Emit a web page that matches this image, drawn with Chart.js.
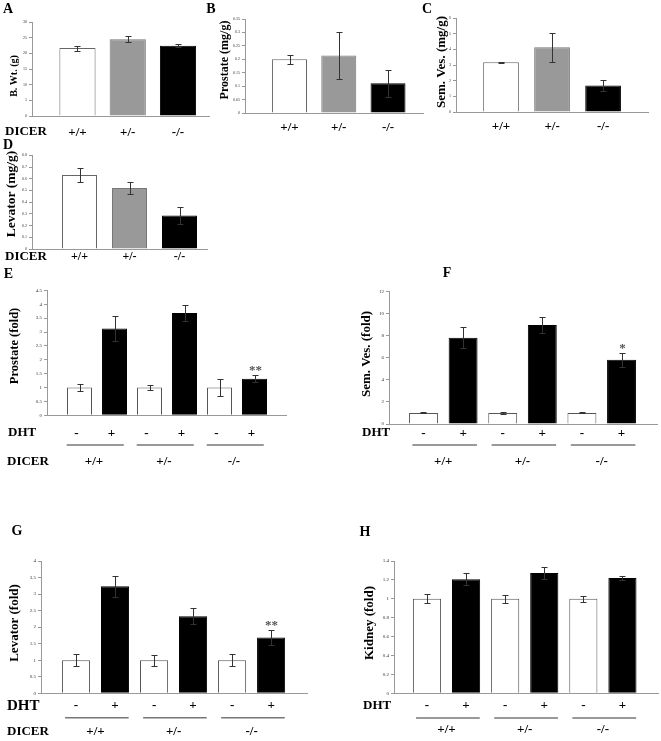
<!DOCTYPE html>
<html>
<head>
<meta charset="utf-8">
<script src="https://cdn.jsdelivr.net/npm/chart.js@4.4.1/dist/chart.umd.min.js"></script>
<style>
  html, body { margin: 0; padding: 0; background: #fff; }
  #page { position: relative; width: 661px; height: 741px; overflow: hidden; }
  #page canvas { position: absolute; }
</style>
</head>
<body>
<div id="page"></div>
<script>
// categories
const genotypes = ['+/+', '+/-', '-/-'];
const dhtLabels = ['-', '+', '-', '+', '-', '+'];

// A-D : organ weights without treatment
const bodyWeight = [21.7, 24.5, 22.4];
const bodyWeightErr = [0.8, 0.9, 0.5];
const prostateMg = [0.2, 0.214, 0.111];
const prostateMgErr = [0.017, 0.087, 0.05];
const semVesMg = [3.18, 4.14, 1.69];
const semVesMgErr = [0.03, 0.93, 0.34];
const levatorMg = [0.632, 0.52, 0.285];
const levatorMgErr = [0.063, 0.054, 0.075];

// E-H : fold change with / without DHT
const prostateFold = [1, 3.13, 1, 3.69, 1, 1.32];
const prostateFoldErr = [0.13, 0.44, 0.08, 0.3, 0.29, 0.12];
const prostateSig = ['', '', '', '', '', '**'];
const semVesFold = [1, 7.8, 1, 8.95, 1, 5.81];
const semVesFoldErr = [0.05, 0.93, 0.1, 0.7, 0.05, 0.63];
const semVesSig = ['', '', '', '', '', '*'];
const levatorFold = [1, 3.24, 1, 2.33, 1, 1.69];
const levatorFoldErr = [0.18, 0.32, 0.16, 0.24, 0.18, 0.22];
const levatorSig = ['', '', '', '', '', '**'];
const kidneyFold = [1, 1.206, 1, 1.273, 1, 1.22];
const kidneyFoldErr = [0.048, 0.065, 0.04, 0.064, 0.03, 0.025];

// couleurs
const genoFills = ['#ffffff', '#999999', '#000000'];
const genoBorders = ['#666666', '#777777', '#000000'];
const dhtFills = ['#ffffff', '#000000', '#ffffff', '#000000', '#ffffff', '#000000'];
const dhtBorders = ['#555555', '#000000', '#555555', '#000000', '#555555', '#000000'];

const SERIF = '"Liberation Serif", "Times New Roman", serif';
const page = document.getElementById('page');

// error bars, stars, letters, titles, DHT/DICER rows
function decoPlugin(p) {
  return {
    id: 'deco' + p.letter,
    afterDatasetsDraw(chart) {
      const ctx = chart.ctx;
      const yS = chart.scales.y;
      const bars = chart.getDatasetMeta(0).data;
      ctx.save();
      ctx.strokeStyle = '#333';
      ctx.lineWidth = 1;
      p.values.forEach((v, i) => {
        const e = p.errors[i];
        const bx = Math.round(bars[i].x) + 0.5;
        const top = Math.round(yS.getPixelForValue(v + e)) + 0.5;
        const bot = Math.round(yS.getPixelForValue(v - e)) + 0.5;
        ctx.beginPath();
        ctx.moveTo(bx, top); ctx.lineTo(bx, bot);
        ctx.moveTo(bx - 3, top); ctx.lineTo(bx + 3, top);
        ctx.moveTo(bx - 3, bot); ctx.lineTo(bx + 3, bot);
        ctx.stroke();
        if (p.sig && p.sig[i]) {
          ctx.fillStyle = '#555';
          ctx.font = 'bold 13px ' + SERIF;
          ctx.textAlign = 'center';
          ctx.textBaseline = 'alphabetic';
          ctx.fillText(p.sig[i], bx, top - 2);
        }
      });
      ctx.restore();
    },
    afterDraw(chart) {
      const ctx = chart.ctx;
      const ox = p.box[0], oy = p.box[1];
      ctx.save();
      ctx.fillStyle = '#000';
      ctx.textAlign = 'center';
      ctx.textBaseline = 'middle';
      ctx.font = 'bold 14px ' + SERIF;
      ctx.fillText(p.letter, p.letterAt[0] - ox, p.letterAt[1] - oy);

      ctx.save();
      ctx.translate(p.titleAt[0] - ox, p.titleAt[1] - oy);
      ctx.rotate(-Math.PI / 2);
      ctx.font = 'bold ' + p.titleSize + 'px ' + SERIF;
      ctx.fillText(p.title, 0, 0);
      ctx.restore();

      ctx.textAlign = 'left';
      (p.rowHeads || []).forEach(r => {
        ctx.font = 'bold ' + r.size + 'px ' + SERIF;
        ctx.fillText(r.text, r.x - ox, r.y - oy);
      });

      if (p.groupY) {
        const xS = chart.scales.x;
        const sh = p.shift || 0;
        ctx.strokeStyle = '#777';
        ctx.lineWidth = 1.5;
        ctx.textAlign = 'center';
        ctx.font = 'bold 13px ' + SERIF;
        genotypes.forEach((g, k) => {
          const a = xS.getPixelForValue(2 * k + 1 - 0.28) + sh;
          const b = xS.getPixelForValue(2 * k + 2 + 0.35) + sh;
          ctx.beginPath();
          ctx.moveTo(a, p.lineY - oy);
          ctx.lineTo(b, p.lineY - oy);
          ctx.stroke();
          ctx.fillText(g, xS.getPixelForValue(2 * k + 1.5) + sh, p.groupY - oy);
        });
      }
      ctx.restore();
    }
  };
}

function makePanel(p) {
  const c = document.createElement('canvas');
  const w = p.box[2], h = p.box[3];
  c.width = w; c.height = h;
  c.style.left = p.box[0] + 'px';
  c.style.top = p.box[1] + 'px';
  c.style.width = w + 'px';
  c.style.height = h + 'px';
  page.appendChild(c);
  const yW = p.plot[0] - p.box[0];
  const xH = p.box[1] + h - p.plot[3];
  return new Chart(c, {
    type: 'bar',
    data: {
      datasets: [{
        data: p.values.map((v, i) => ({ x: i + 1, y: v })),
        backgroundColor: p.fills,
        borderColor: p.borders,
        borderWidth: 1,
        categoryPercentage: 1,
        barPercentage: p.barPct,
      }],
    },
    options: {
      responsive: false,
      animation: false,
      devicePixelRatio: 1,
      layout: { padding: { left: 0, bottom: 0, top: p.plot[1] - p.box[1], right: p.box[0] + w - p.plot[2] } },
      plugins: { legend: { display: false }, tooltip: { enabled: false } },
      scales: {
        x: {
          type: 'linear', offset: false, bounds: 'data',
          min: p.xMin, max: p.xMax,
          afterBuildTicks: s => { s.ticks = p.labels.map((_, i) => ({ value: i + 1 })); },
          afterFit: s => { s.height = xH; },
          grid: { display: false, drawTicks: false },
          border: { color: '#999', width: 1 },
          ticks: {
            callback: v => p.labels[Math.round(v) - 1],
            color: '#000',
            font: { family: SERIF, size: p.labelSize || 13, weight: 'bold' },
            padding: p.tickPad,
            labelOffset: p.shift || 0,
            maxRotation: 0, autoSkip: false,
          },
        },
        y: {
          min: 0, max: p.yMax,
          afterFit: s => { s.width = yW; },
          grid: { drawOnChartArea: false, tickLength: 3, color: '#999' },
          border: { color: '#999', width: 1 },
          ticks: {
            stepSize: p.yStep,
            color: '#333',
            padding: 2,
            font: { family: SERIF, size: p.tickSize },
            callback: v => String(Math.round(v * 100) / 100),
          },
        },
      },
    },
    plugins: [decoPlugin(p)],
  });
}

const panels = [
  { letter: 'A', letterAt: [8, 9], box: [0, 0, 215, 142], plot: [32, 22, 209, 116],
    yMax: 30, yStep: 5, tickSize: 4, xMin: 0.095, xMax: 3.617, barPct: 0.72,
    values: bodyWeight, errors: bodyWeightErr, labels: genotypes, fills: genoFills, borders: genoBorders,
    tickPad: 9, title: 'B. Wt. (g)', titleAt: [14, 76], titleSize: 10,
    rowHeads: [{ text: 'DICER', x: 5, y: 132, size: 13 }] },
  { letter: 'B', letterAt: [211, 9], box: [200, 0, 230, 142], plot: [245, 19, 423, 113],
    yMax: 0.35, yStep: 0.05, tickSize: 4, xMin: 0.096, xMax: 3.71, barPct: 0.71,
    values: prostateMg, errors: prostateMgErr, labels: genotypes, fills: genoFills, borders: genoBorders,
    tickPad: 7, title: 'Prostate (mg/g)', titleAt: [225, 60], titleSize: 12 },
  { letter: 'C', letterAt: [427, 9], box: [418, 0, 243, 142], plot: [456, 18, 648, 112],
    yMax: 6, yStep: 1, tickSize: 4, xMin: 0.118, xMax: 3.88, barPct: 0.7,
    values: semVesMg, errors: semVesMgErr, labels: genotypes, fills: genoFills, borders: genoBorders,
    tickPad: 7, title: 'Sem. Ves. (mg/g)', titleAt: [442, 62], titleSize: 13 },
  { letter: 'D', letterAt: [8, 145], box: [0, 135, 215, 135], plot: [32, 155.3, 207, 249],
    yMax: 0.8, yStep: 0.1, tickSize: 4, xMin: 0.05, xMax: 3.55, barPct: 0.7,
    values: levatorMg, errors: levatorMgErr, labels: genotypes, fills: genoFills, borders: genoBorders,
    tickPad: 1, labelSize: 12, title: 'Levator (mg/g)', titleAt: [12, 194], titleSize: 13.5,
    rowHeads: [{ text: 'DICER', x: 5, y: 257, size: 13 }] },
  { letter: 'E', letterAt: [8.5, 274], box: [0, 265, 330, 205], plot: [47, 290.4, 286, 415.3],
    yMax: 4.5, yStep: 0.5, tickSize: 5, xMin: 0.071, xMax: 6.9, barPct: 0.714,
    values: prostateFold, errors: prostateFoldErr, sig: prostateSig, labels: dhtLabels,
    fills: dhtFills, borders: dhtBorders, tickPad: 10.5, shift: -3,
    title: 'Prostate (fold)', titleAt: [15, 346], titleSize: 12.5,
    rowHeads: [{ text: 'DHT', x: 8, y: 433, size: 13 }, { text: 'DICER', x: 7, y: 462, size: 13 }],
    lineY: 445, groupY: 462 },
  { letter: 'F', letterAt: [447, 273], box: [330, 265, 331, 205], plot: [389, 291.3, 657, 424],
    yMax: 12, yStep: 2, tickSize: 5, xMin: 0.129, xMax: 6.896, barPct: 0.73,
    values: semVesFold, errors: semVesFoldErr, sig: semVesSig, labels: dhtLabels,
    fills: dhtFills, borders: dhtBorders, tickPad: 2,
    title: 'Sem. Ves. (fold)', titleAt: [367, 354], titleSize: 13,
    rowHeads: [{ text: 'DHT', x: 362, y: 433, size: 13 }],
    lineY: 445, groupY: 462 },
  { letter: 'G', letterAt: [17, 531], box: [0, 500, 330, 241], plot: [41, 561, 307, 693.3],
    yMax: 4, yStep: 0.5, tickSize: 5, xMin: 0.103, xMax: 6.92, barPct: 0.72,
    values: levatorFold, errors: levatorFoldErr, sig: levatorSig, labels: dhtLabels,
    fills: dhtFills, borders: dhtBorders, tickPad: 5,
    title: 'Levator (fold)', titleAt: [15, 623], titleSize: 13,
    rowHeads: [{ text: 'DHT', x: 7, y: 705.7, size: 15 }, { text: 'DICER', x: 7, y: 731.7, size: 13 }],
    lineY: 717.7, groupY: 731.7 },
  { letter: 'H', letterAt: [365, 532], box: [330, 500, 331, 241], plot: [394, 561, 658, 693.3],
    yMax: 1.4, yStep: 0.2, tickSize: 5, xMin: 0.156, xMax: 6.91, barPct: 0.72,
    values: kidneyFold, errors: kidneyFoldErr, labels: dhtLabels,
    fills: dhtFills, borders: dhtBorders, tickPad: 5,
    title: 'Kidney (fold)', titleAt: [370, 623], titleSize: 13,
    rowHeads: [{ text: 'DHT', x: 363, y: 705.7, size: 13 }],
    lineY: 718, groupY: 730 },
];

panels.forEach(makePanel);
</script>
</body>
</html>
